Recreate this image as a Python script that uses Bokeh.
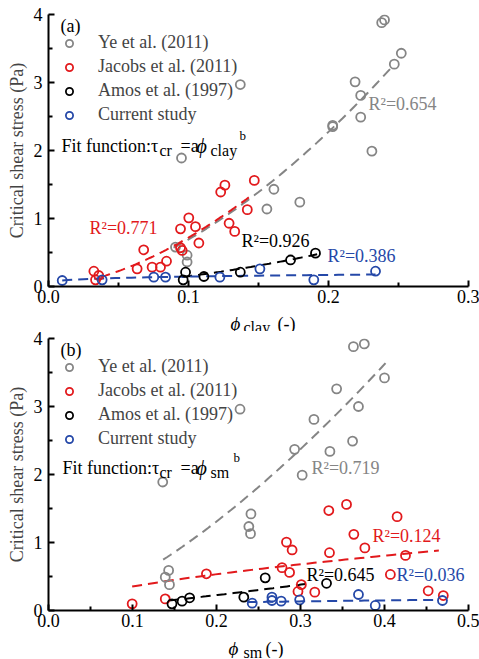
import numpy as np
from bokeh.plotting import figure
from bokeh.models import (Label, Legend, LegendItem, Range1d, FixedTicker,
                          NumeralTickFormatter, ColumnDataSource)
from bokeh.layouts import column
from bokeh.embed import file_html
from bokeh.resources import INLINE

FONT = "'Liberation Serif', serif"
GRAY = "#858585"
RED = "#E2191C"
BLACK = "#000000"
BLUE = "#2548A8"

series_names = ["Ye et al. (2011)", "Jacobs et al. (2011)", "Amos et al. (1997)", "Current study"]
series_colors = [GRAY, RED, BLACK, BLUE]

# tick positions
y_major = [0, 1, 2, 3, 4]
y_minor = [0.5, 1.5, 2.5, 3.5]
xa_major = [0.0, 0.1, 0.2, 0.3]
xa_minor = [0.05, 0.15, 0.25]
xb_major = [0.0, 0.1, 0.2, 0.3, 0.4, 0.5]
xb_minor = [0.05, 0.15, 0.25, 0.35, 0.45]

# ---------------- panel (a): clay fraction ----------------
ye_clay = [0.238, 0.240, 0.252, 0.247, 0.137, 0.219, 0.223, 0.223, 0.203, 0.203,
           0.231, 0.095, 0.161, 0.156, 0.1795, 0.0907, 0.099, 0.099]
ye_tau_a = [3.88, 3.92, 3.43, 3.27, 2.97, 3.01, 2.81, 2.49, 2.37, 2.35,
            1.99, 1.89, 1.43, 1.14, 1.24, 0.58, 0.46, 0.36]
jac_clay = [0.0324, 0.0359, 0.0336, 0.0633, 0.068, 0.074, 0.080, 0.0843, 0.0943, 0.0943,
            0.0955, 0.1002, 0.105, 0.1074, 0.123, 0.126, 0.129, 0.133, 0.142, 0.147]
jac_tau_a = [0.225, 0.162, 0.098, 0.26, 0.54, 0.284, 0.284, 0.372, 0.848, 0.57,
             0.53, 1.01, 0.88, 0.64, 1.39, 1.49, 0.93, 0.81, 1.13, 1.56]
amos_clay = [0.0962, 0.0979, 0.111, 0.137, 0.1729, 0.1907]
amos_tau_a = [0.098, 0.21, 0.147, 0.21, 0.39, 0.49]
cur_clay = [0.0098, 0.0383, 0.0752, 0.0836, 0.1224, 0.151, 0.1895, 0.2336]
cur_tau_a = [0.088, 0.098, 0.137, 0.137, 0.137, 0.26, 0.098, 0.225]

# power-law fits tau = a * phi^b  (a, b, phi_min, phi_max)
fit_a_coef = [36.0, 33.7, 8.5, 0.242]
fit_a_exp = [1.716, 1.67, 1.75, 0.219]
fit_a_min = [0.0893, 0.0371, 0.0955, 0.0098]
fit_a_max = [0.244, 0.1431, 0.1919, 0.2336]
r2_a = ["0.654", "0.771", "0.926", "0.386"]

# ---------------- panel (b): sand+mud fraction ----------------
ye_sm = [0.363, 0.376, 0.400, 0.343, 0.369, 0.228, 0.316, 0.293, 0.335, 0.362,
         0.302, 0.136, 0.241, 0.2385, 0.2405, 0.143, 0.139, 0.144]
ye_tau_b = [3.88, 3.92, 3.42, 3.26, 3.00, 2.96, 2.81, 2.37, 2.34, 2.49,
            1.99, 1.89, 1.42, 1.235, 1.13, 0.59, 0.49, 0.38]
jac_sm = [0.0996, 0.139, 0.188, 0.278, 0.2833, 0.290, 0.287, 0.297, 0.301, 0.317,
          0.3337, 0.3345, 0.3548, 0.3635, 0.3766, 0.407, 0.415, 0.425, 0.452, 0.470]
jac_tau_b = [0.098, 0.17, 0.54, 0.63, 1.005, 0.89, 0.56, 0.28, 0.38, 0.27,
             1.47, 0.85, 1.56, 1.12, 0.92, 0.53, 1.38, 0.81, 0.29, 0.22]
amos_sm = [0.147, 0.159, 0.168, 0.2325, 0.258, 0.331]
amos_tau_b = [0.098, 0.137, 0.187, 0.196, 0.48, 0.40]
cur_sm = [0.2425, 0.266, 0.266, 0.277, 0.299, 0.369, 0.389, 0.469]
cur_tau_b = [0.107, 0.196, 0.147, 0.137, 0.157, 0.235, 0.074, 0.147]

fit_b_coef = [13.9, 1.39, 1.775, 0.2077]
fit_b_exp = [1.468, 0.595, 1.28, 0.365]
fit_b_min = [0.1365, 0.0996, 0.1433, 0.2365]
fit_b_max = [0.4012, 0.4647, 0.306, 0.4647]
r2_b = ["0.719", "0.124", "0.645", "0.036"]

LEFT = 48
RIGHT = 11


def txt(p, x, y, text, size, color=BLACK, style="normal", baseline="alphabetic"):
    p.add_layout(Label(x=x, y=y, x_units="screen", y_units="screen", text=text,
                       text_font=FONT, text_font_size=f"{size}px", text_color=color,
                       text_font_style=style, text_baseline=baseline, text_align="left"))


def make_panel(xmax, xmaj, xmin, xs, ys, fits, r2s, r2_pos, tag, subtxt, fit_x, fit_base,
               top):
    p = figure(width=LEFT + 420 + RIGHT, height=top + 272 + 24, output_backend="svg",
               toolbar_location=None, x_range=Range1d(0, xmax), y_range=Range1d(0, 4),
               min_border_left=LEFT, min_border_right=RIGHT, min_border_top=top,
               min_border_bottom=24)
    p.outline_line_color = None
    p.grid.visible = False

    p.xaxis.ticker = FixedTicker(ticks=xmaj, minor_ticks=xmin)
    p.yaxis.ticker = FixedTicker(ticks=y_major, minor_ticks=y_minor)
    p.xaxis.formatter = NumeralTickFormatter(format="0.0")
    for ax in (p.xaxis[0], p.yaxis[0]):
        ax.axis_line_width = 2
        ax.major_tick_in = 6
        ax.major_tick_out = 0
        ax.minor_tick_in = 4
        ax.minor_tick_out = 0
        ax.major_tick_line_width = 2
        ax.minor_tick_line_width = 2
        ax.major_label_text_font = FONT
        ax.major_label_text_font_size = "18px"
        ax.major_label_text_color = BLACK
        ax.major_label_standoff = 3
        ax.axis_label_text_font = FONT
        ax.axis_label_text_font_size = "18px"
        ax.axis_label_text_font_style = "normal"
    p.yaxis.axis_label = "Critical shear stress (Pa)"
    p.yaxis.axis_label_standoff = 4
    p.yaxis.major_label_standoff = 6

    renderers = []
    for i in range(4):
        a, b, lo, hi = fits[0][i], fits[1][i], fits[2][i], fits[3][i]
        fx = np.linspace(lo, hi, 60)
        fy = a * fx ** b
        p.line(fx, fy, line_color=series_colors[i], line_width=2, line_dash="10 6")
    for i in range(4):
        src = ColumnDataSource(dict(x=xs[i], y=ys[i]))
        r = p.scatter("x", "y", source=src, marker="circle", size=9, fill_color=None,
                      line_color=series_colors[i], line_width=1.8)
        renderers.append(r)

    legend = Legend(items=[LegendItem(label=series_names[i], renderers=[renderers[i]])
                           for i in range(4)],
                    location=(12, 161), orientation="vertical", margin=0, padding=0,
                    spacing=3, glyph_width=18, glyph_height=20, label_height=20,
                    label_standoff=20, label_text_font=FONT, label_text_font_size="18px",
                    border_line_color=None, background_fill_alpha=0)
    p.add_layout(legend)

    for i in range(4):
        txt(p, r2_pos[i][0], r2_pos[i][1], "R\u00b2=" + r2s[i], 18, series_colors[i],
            baseline="middle")

    txt(p, 12, 261, tag, 18, baseline="middle")
    txt(p, fit_x[0], fit_base, "Fit function:\u03c4", 18)
    txt(p, fit_x[1], fit_base - 5, "cr", 16)
    txt(p, fit_x[2], fit_base, "=a", 18)
    txt(p, fit_x[3], fit_base, "\u03d5", 20, style="italic")
    txt(p, fit_x[4], fit_base - 5, subtxt, 16)
    txt(p, fit_x[5], fit_base + 10, "b", 13)
    return p


def xlabel_fig(subtxt, xpos, base, h):
    f = figure(width=LEFT + 420 + RIGHT, height=h, output_backend="svg",
               toolbar_location=None, x_axis_type=None, y_axis_type=None,
               min_border=0, min_border_left=LEFT, min_border_right=RIGHT,
               min_border_top=0, min_border_bottom=0,
               x_range=Range1d(0, 1), y_range=Range1d(0, 1))
    f.outline_line_color = None
    txt(f, xpos[0], base, "\u03d5", 19, style="italic")
    txt(f, xpos[1], base - 4, subtxt, 16)
    txt(f, xpos[2], base, "(-)", 18)
    return f


p1 = make_panel(0.3, xa_major, xa_minor,
                [ye_clay, jac_clay, amos_clay, cur_clay],
                [ye_tau_a, jac_tau_a, amos_tau_a, cur_tau_a],
                [fit_a_coef, fit_a_exp, fit_a_min, fit_a_max], r2_a,
                [(320, 183), (41, 59), (193, 46), (279, 31)], "(a)", "clay",
                [13, 111, 132, 148, 162, 191], 141, 14)
x1 = xlabel_fig("clay", [182, 195, 229], 8, 21)
p2 = make_panel(0.5, xb_major, xb_minor,
                [ye_sm, jac_sm, amos_sm, cur_sm],
                [ye_tau_b, jac_tau_b, amos_tau_b, cur_tau_b],
                [fit_b_coef, fit_b_exp, fit_b_min, fit_b_max], r2_b,
                [(263, 143), (324, 75), (258, 36), (348, 36)], "(b)", "sm",
                [14, 111, 132, 148, 162, 185], 143, 7)
x2 = xlabel_fig("sm", [180, 195, 217], 10, 24)

layout = column(p1, x1, p2, x2)
open("out.html", "w").write(file_html(layout, INLINE))
